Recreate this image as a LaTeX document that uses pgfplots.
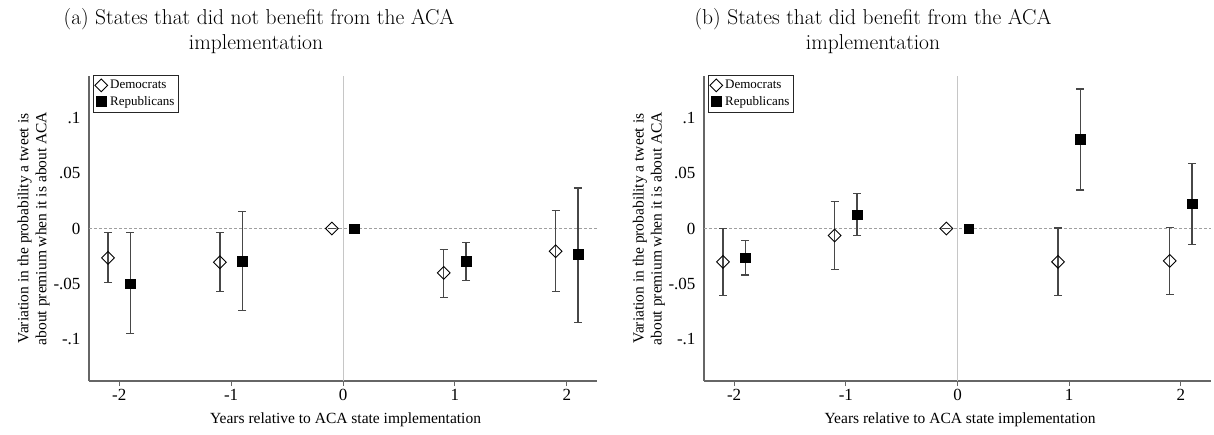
\documentclass[border=0pt]{standalone}
\usepackage{fontspec}
\setmainfont{Liberation Serif}
\usepackage{pgfplots}
\pgfplotsset{compat=1.18}
\usepackage{pgfplotstable}

% left panel: did not benefit
\pgfplotstableread{
x y ep em
-2.1 -0.0265 0.0229 0.0225
-1.1 -0.0304 0.0268 0.0261
-0.1 0 0 0
0.9 -0.0400 0.0214 0.0222
1.9 -0.0205 0.0364 0.0366
}\demA
\pgfplotstableread{
x y ep em
-1.9 -0.0496 0.0460 0.0450
-0.9 -0.0295 0.0445 0.0441
0.1 0 0 0
1.1 -0.0295 0.0172 0.0174
2.1 -0.0234 0.0600 0.0613
}\repA
% right panel: did benefit
\pgfplotstableread{
x y ep em
-2.1 -0.0300 0.0300 0.0304
-1.1 -0.0063 0.0309 0.0307
-0.1 0 0 0
0.9 -0.0300 0.0305 0.0304
1.9 -0.0292 0.0304 0.0300
}\demB
\pgfplotstableread{
x y ep em
-1.9 -0.0265 0.0157 0.0155
-0.9 0.0123 0.0192 0.0186
0.1 0 0 0
1.1 0.0805 0.0453 0.0457
2.1 0.0222 0.0366 0.0363
}\repB

\definecolor{axisgray}{gray}{0.4}

\pgfplotsset{
  panel/.style={
    scale only axis, width=508pt, height=305pt,
    xmin=-2.27, xmax=2.27, ymin=-0.1375, ymax=0.1375,
    axis x line*=bottom, axis y line*=left,
    axis line style={axisgray, line width=1.1pt, -},
    xtick={-2,-1,0,1,2},
    xticklabels={-2,-1,0,1,2},
    ytick={-0.1,-0.05,0,0.05,0.1},
    yticklabels={-.1,-.05,0,.05,.1},
    tick align=outside,
    major tick length=5pt,
    xtick style={axisgray, line width=1pt},
    ytick style={draw=none},
    ticklabel style={font=\fontsize{17}{20}\selectfont},
    /pgf/number format/assume math mode=true,
    xlabel={Years relative to ACA state implementation},
    xlabel style={at={(axis description cs:0.505,-0.1377)}, anchor=base, inner sep=0pt,
      font=\fontsize{15.5}{18}\selectfont},
    ylabel={Variation in the probability a tweet is\\about premium when it is about ACA},
    ylabel style={at={(axis description cs:-0.0768,0.5)}, anchor=south, rotate=0, inner sep=0pt,
      align=center, font=\fontsize{15.5}{18}\selectfont},
    legend style={at={(0,1)}, anchor=north west, xshift=4pt, yshift=1pt, draw=black!85, line width=0.8pt,
      font=\fontsize{13}{15}\selectfont, inner xsep=1.5pt, inner ysep=2pt,
      nodes={inner ysep=3pt, inner xsep=2.5pt}, row sep=0pt},
    legend cell align=left,
    legend image code/.code={\draw[mark repeat=2,mark phase=2,##1] plot coordinates {(0pt,0pt) (7pt,0pt) (14pt,0pt)};},
    error bars/error bar style={line width=1.3pt, black!72},
    error bars/error mark options={line width=1.2pt, black!72, mark size=4pt, rotate=90},
  },
  dem/.style={only marks, mark=square, mark size=4.5pt,
    mark options={rotate=45, fill=white, draw=black, line width=0.9pt},
    error bars/.cd, y dir=both, y explicit},
  rep/.style={only marks, mark=square*, mark size=4.8pt,
    mark options={fill=black, draw=black},
    error bars/.cd, y dir=both, y explicit},
}

\begin{document}
\begin{tikzpicture}
\useasboundingbox (0,-434pt) rectangle (1214pt,0pt);

\node[font=\fontfamily{lmr}\fontsize{21.5}{25}\selectfont, anchor=base] at (259pt,-24pt) {(a) States that did not benefit from the ACA};
\node[font=\fontfamily{lmr}\fontsize{21.5}{25}\selectfont, anchor=base] at (256pt,-49.5pt) {implementation};
\node[font=\fontfamily{lmr}\fontsize{21.5}{25}\selectfont, anchor=base] at (873pt,-24pt) {(b) States that did benefit from the ACA};
\node[font=\fontfamily{lmr}\fontsize{21.5}{25}\selectfont, anchor=base] at (873pt,-49.5pt) {implementation};

\begin{axis}[panel, at={(89pt,-381pt)}, anchor=south west]
\addplot[forget plot, gray!75, line width=0.6pt, dash pattern=on 3pt off 2pt] coordinates {(-2.27,0) (2.27,0)};
\addplot[forget plot, gray!45, line width=1pt] coordinates {(0,-0.1375) (0,0.1375)};
\addplot[dem] table[x=x, y=y, y error plus=ep, y error minus=em] {\demA};
\addlegendentry{Democrats}
\addplot[rep] table[x=x, y=y, y error plus=ep, y error minus=em] {\repA};
\addlegendentry{Republicans}
\end{axis}

\begin{axis}[panel, at={(704pt,-381pt)}, anchor=south west, width=507pt]
\addplot[forget plot, gray!75, line width=0.6pt, dash pattern=on 3pt off 2pt] coordinates {(-2.27,0) (2.27,0)};
\addplot[forget plot, gray!45, line width=1pt] coordinates {(0,-0.1375) (0,0.1375)};
\addplot[dem] table[x=x, y=y, y error plus=ep, y error minus=em] {\demB};
\addlegendentry{Democrats}
\addplot[rep] table[x=x, y=y, y error plus=ep, y error minus=em] {\repB};
\addlegendentry{Republicans}
\end{axis}
\end{tikzpicture}
\end{document}
